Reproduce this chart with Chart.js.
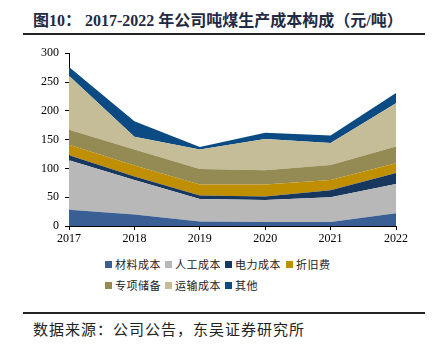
<!DOCTYPE html>
<html>
<head>
<meta charset="utf-8">
<script src="https://cdn.jsdelivr.net/npm/chart.js@4.4.1/dist/chart.umd.min.js"></script>
<style>
  body { margin: 0; width: 439px; height: 352px; background: #fff; position: relative; overflow: hidden; }
  #title { position: absolute; left: 33px; top: 7px; font: bold 16px "Liberation Serif", "Noto Sans CJK SC", serif; color: #1f2a44; white-space: nowrap; }
  .rule { position: absolute; left: 23px; width: 402px; height: 2px; background: #222; }
  #wrap { position: absolute; left: 0; top: 40px; width: 439px; height: 210px; }
  #legend { position: absolute; left: 105px; top: 256px; width: 320px; font: 11px "Noto Sans CJK SC", sans-serif; letter-spacing: 0.5px; color: #222; }
  .item { position: absolute; white-space: nowrap; display: flex; align-items: center; }
  .box { width: 7px; height: 7px; margin-right: 3px; }
  #source { position: absolute; left: 33px; top: 318px; font: 15px "Noto Sans CJK SC", sans-serif; letter-spacing: 1px; color: #222; white-space: nowrap; }
</style>
</head>
<body>
<div id="title">图10： 2017-2022 年公司吨煤生产成本构成（元/吨）</div>
<div class="rule" style="top:33px"></div>
<div id="wrap"><canvas id="costChart" width="439" height="210"></canvas></div>
<div id="legend"></div>
<div class="rule" style="top:312px"></div>
<div id="source">数据来源：公司公告，东吴证券研究所</div>
<script>
// years on the x axis
var years = ['2017', '2018', '2019', '2020', '2021', '2022'];

// per-ton cost parts, yuan/ton
var material = [28, 20, 8, 7, 7, 22];
var labor = [86, 60, 39, 38, 43, 51];
var power = [9, 6, 6, 6, 12, 19];
var depreciation = [18, 19, 19, 21, 18, 17];
var specialReserve = [26, 28, 27, 25, 26, 29];
var transport = [94, 22, 34, 54, 38, 75];
var other = [15, 27, 4, 11, 13, 18];

var seriesNames = ['材料成本', '人工成本', '电力成本', '折旧费', '专项储备', '运输成本', '其他'];
var seriesData = [material, labor, power, depreciation, specialReserve, transport, other];
var seriesColors = ['#3a5f94', '#b8b8b8', '#17375e', '#bf8f00', '#948a54', '#c4bd97', '#0b4a82'];

var datasets = seriesNames.map(function (name, i) {
    return {
        label: name,
        data: seriesData[i],
        backgroundColor: seriesColors[i],
        borderWidth: 0,
        pointRadius: 0,
        tension: 0,
        fill: i === 0 ? 'origin' : '-1'
    };
});

var axisFont = { family: '"Liberation Serif", serif', size: 12 };

new Chart(document.getElementById('costChart').getContext('2d'), {
    type: 'line',
    data: { labels: years, datasets: datasets },
    options: {
        responsive: false,
        animation: false,
        layout: { padding: { left: 29, right: 43, top: 12, bottom: 4 } },
        plugins: { legend: { display: false }, tooltip: { enabled: false } },
        scales: {
            x: {
                offset: false,
                grid: { drawOnChartArea: false, drawTicks: true, tickLength: 4, color: '#000' },
                border: { display: true, color: '#000', width: 1 },
                ticks: { color: '#000', font: axisFont, padding: 2, maxRotation: 0 },
                afterFit: function (scale) { scale.height = 20; }
            },
            y: {
                stacked: true,
                min: 0,
                max: 300,
                grid: { drawOnChartArea: false, drawTicks: true, tickLength: 4, color: '#000' },
                border: { display: true, color: '#000', width: 1 },
                ticks: { stepSize: 50, color: '#000', font: axisFont, padding: 6 },
                afterFit: function (scale) { scale.width = 40; }
            }
        }
    }
});

// legend laid out in Excel-like columns
var legendPos = [[0, 0], [60, 0], [120, 0], [181, 0], [0, 21], [60, 21], [120, 21]];
var legend = document.getElementById('legend');
seriesNames.forEach(function (name, i) {
    var item = document.createElement('div');
    item.className = 'item';
    item.style.left = legendPos[i][0] + 'px';
    item.style.top = legendPos[i][1] + 'px';
    item.innerHTML = '<span class="box" style="background:' + seriesColors[i] + '"></span>' + name;
    legend.appendChild(item);
});
</script>
</body>
</html>
